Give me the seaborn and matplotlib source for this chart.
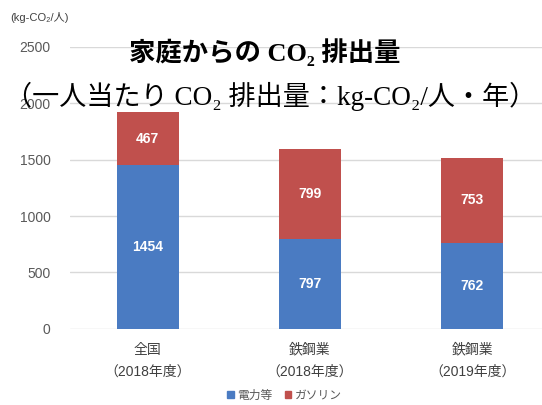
import matplotlib
matplotlib.use("Agg")
import matplotlib.pyplot as plt
import matplotlib.patches as mpatches
import seaborn as sns
import pandas as pd

# data
categories = ["全国\n（2018年度）", "鉄鋼業\n（2018年度）", "鉄鋼業\n（2019年度）"]
electric = [1454, 797, 762]   # 電力等
gasoline = [467, 799, 753]    # ガソリン
y_ticks = [0, 500, 1000, 1500, 2000, 2500]

blue = "#4A7BC2"
red = "#C0504D"

sns.set_theme(style="white")
plt.rcParams["font.family"] = ["Liberation Sans", "Noto Sans CJK JP", "DejaVu Sans"]

df = pd.DataFrame({
    "cat": categories,
    "electric": electric,
    "total": [e + g for e, g in zip(electric, gasoline)],
})

fig = plt.figure(figsize=(5.42, 4.05), dpi=100)
ax = fig.add_axes([0.129, 0.188, 0.871, 0.696])

# stacked bars: full height in red, lower part in blue on top
sns.barplot(data=df, x="cat", y="total", color=red, width=0.38, linewidth=0,
            saturation=1, errorbar=None, ax=ax, zorder=2)
sns.barplot(data=df, x="cat", y="electric", color=blue, width=0.38, linewidth=0,
            saturation=1, errorbar=None, ax=ax, zorder=2)

for i, (e, g) in enumerate(zip(electric, gasoline)):
    ax.text(i, e / 2, str(e), ha="center", va="center", color="white",
            fontsize=10, fontweight="bold", zorder=3)
    ax.text(i, e + g / 2, str(g), ha="center", va="center", color="white",
            fontsize=10, fontweight="bold", zorder=3)

ax.set_ylim(0, 2500)
ax.set_xlim(-0.48, 2.43)
ax.set_yticks(y_ticks)
ax.set_yticklabels([str(t) for t in y_ticks], fontsize=10, color="#595959")
ax.set_xticks(range(len(categories)))
ax.set_xticklabels(categories, fontsize=10, color="#404040", linespacing=1.7)
ax.tick_params(axis="both", length=0)
ax.tick_params(axis="x", pad=10)
ax.tick_params(axis="y", pad=14)
ax.yaxis.grid(True, color="#D9D9D9", linewidth=1)
ax.set_axisbelow(True)
for s in ax.spines.values():
    s.set_visible(False)
ax.set_xlabel("")
ax.set_ylabel("")

fig.text(0.018, 0.957, "(kg-CO₂/人)", fontsize=8, color="#404040",
         ha="left", va="center")

serif = ["Liberation Serif", "DejaVu Serif", "Noto Sans CJK JP"]
fig.text(0.489, 0.872, "家庭からの CO₂ 排出量", family=serif, fontsize=19,
         fontweight="bold", ha="center", va="center", color="black")
fig.text(0.5, 0.762, "（一人当たり CO₂ 排出量：kg-CO₂/人・年）", family=serif,
         fontsize=19.5, ha="center", va="center", color="black")

handles = [mpatches.Patch(color=blue, label="電力等"),
           mpatches.Patch(color=red, label="ガソリン")]
fig.legend(handles=handles, loc="center", bbox_to_anchor=(0.525, 0.022), ncol=2,
           frameon=False, fontsize=8.5, handlelength=0.55, handleheight=0.55,
           handletextpad=0.3, columnspacing=1.0, labelcolor="#595959")

fig.savefig("out.png", dpi=100)
